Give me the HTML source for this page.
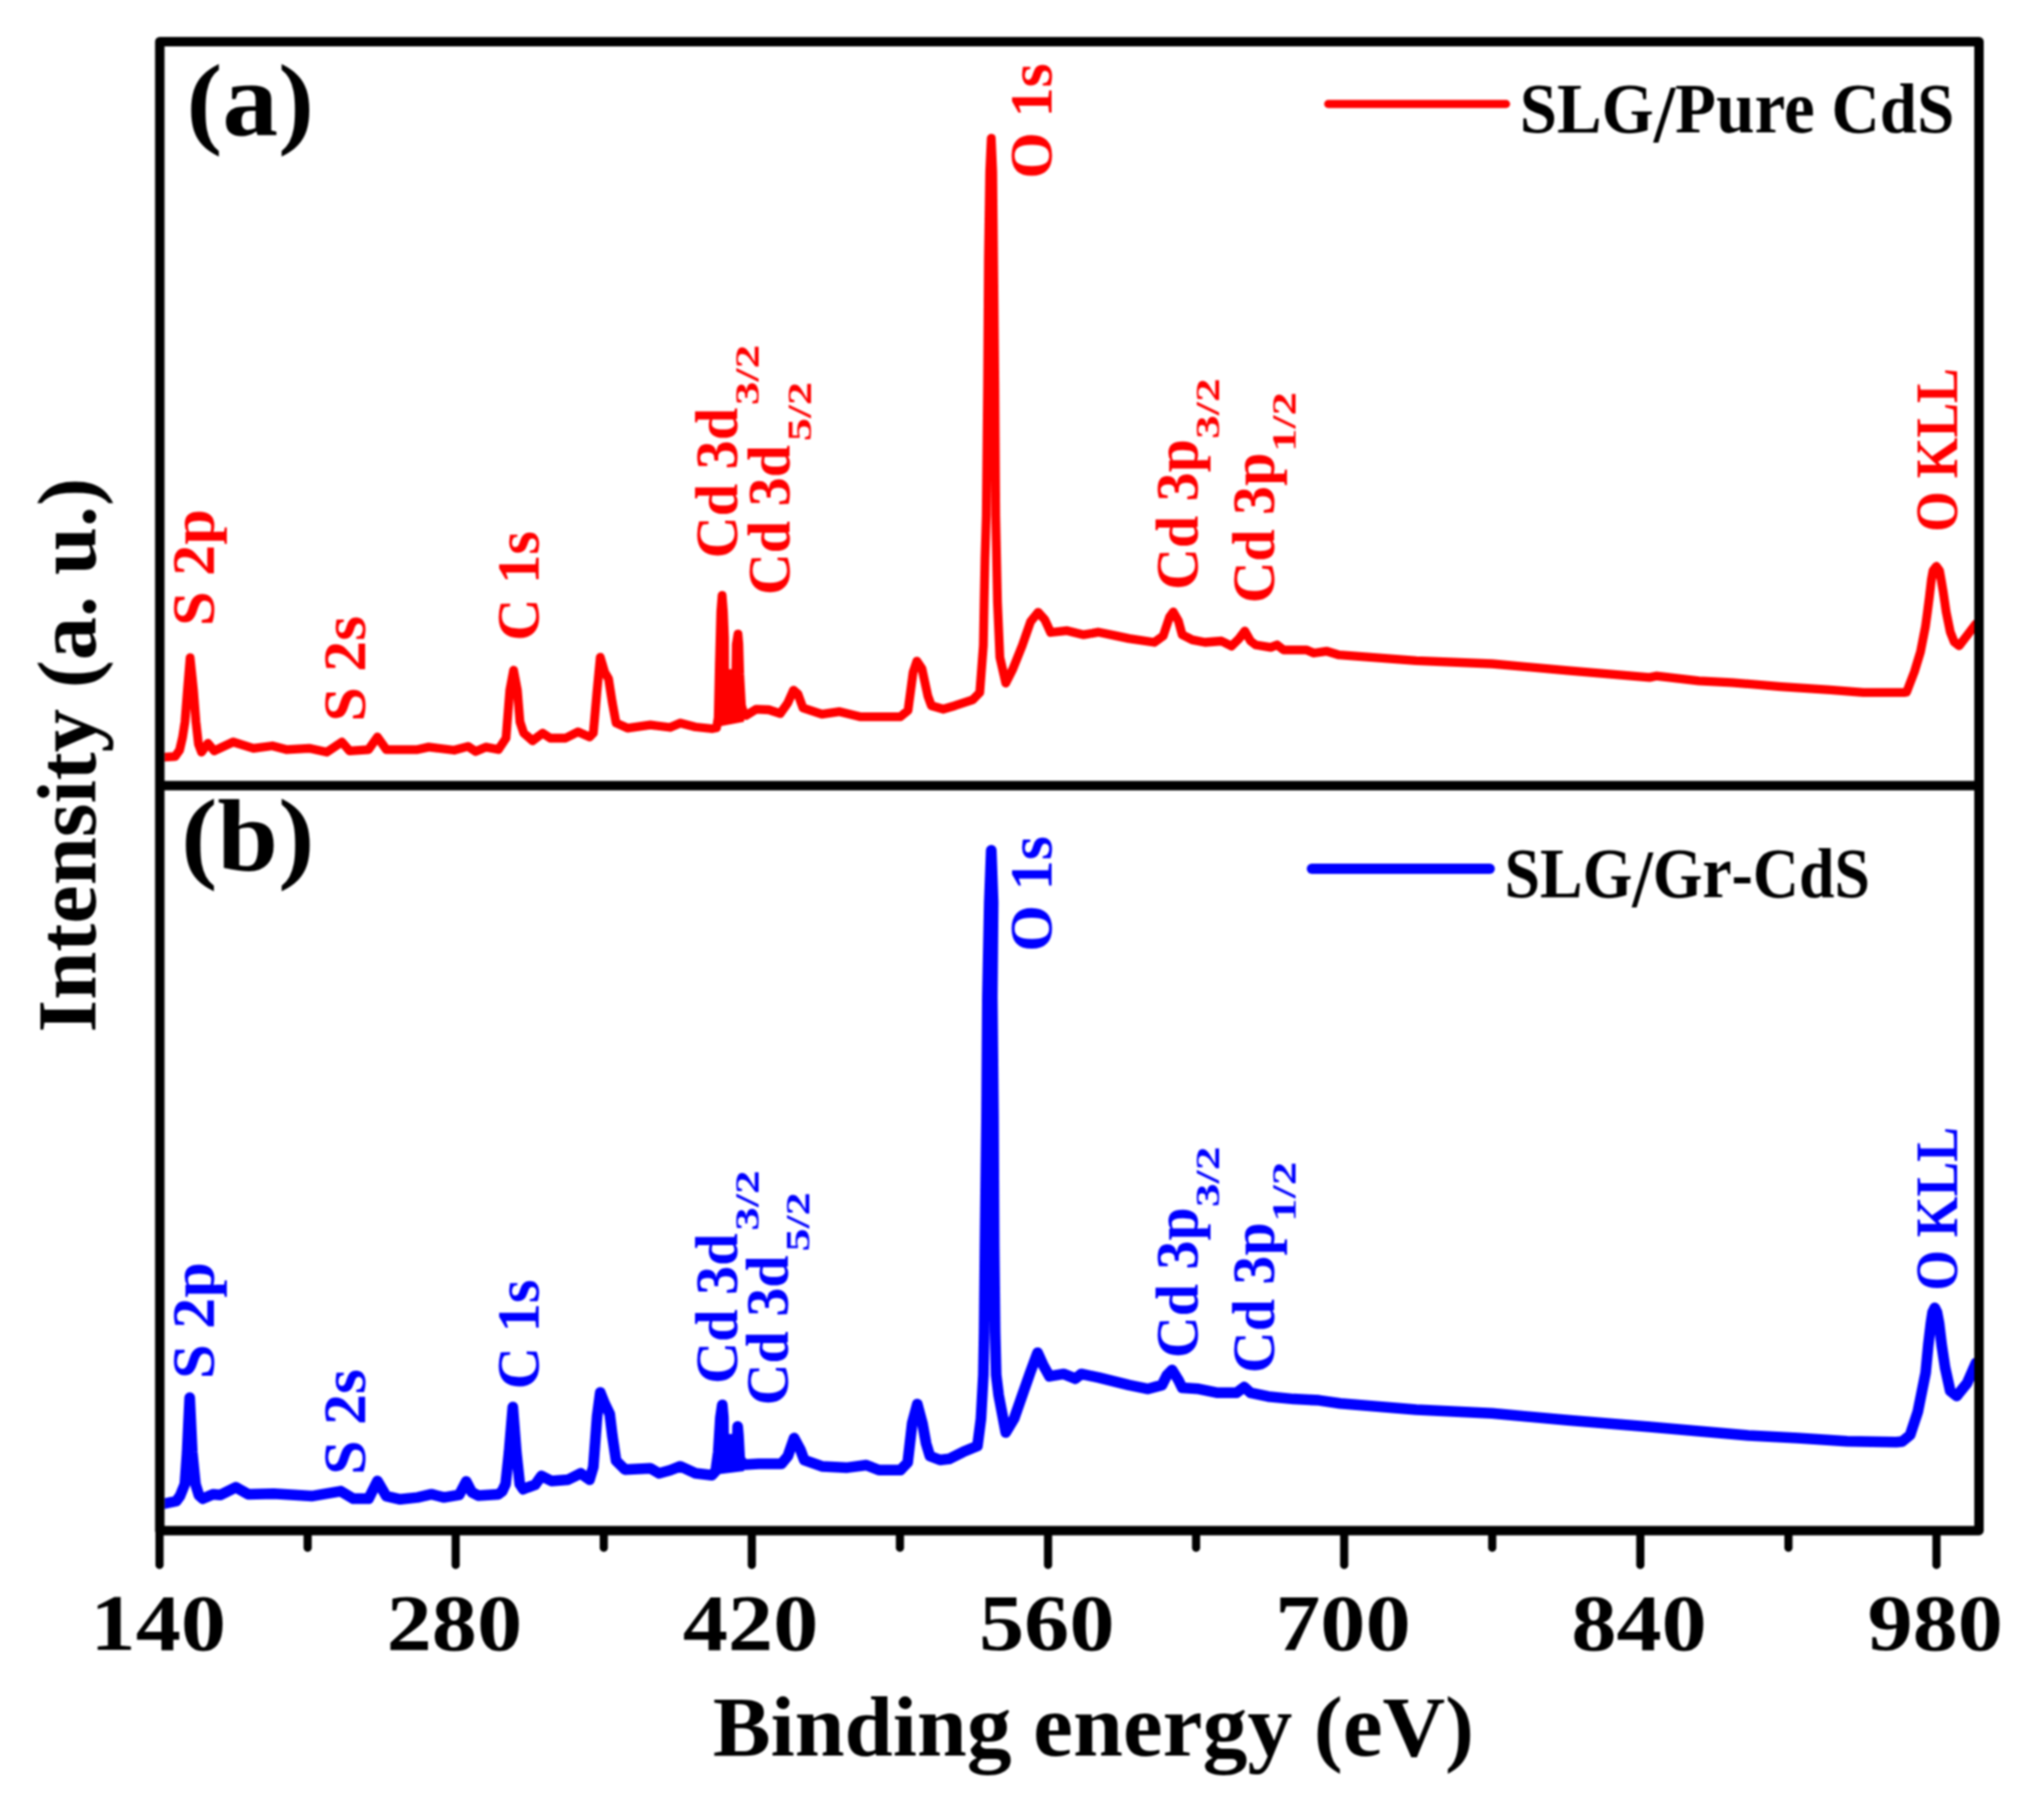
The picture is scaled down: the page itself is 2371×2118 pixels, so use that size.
<!DOCTYPE html>
<html><head><meta charset="utf-8"><title>XPS survey spectra</title>
<style>html,body{margin:0;padding:0;background:#fff;width:2371px;height:2118px;overflow:hidden}</style>
</head><body>
<svg width="2371" height="2118" viewBox="0 0 2371 2118" style="display:block;filter:blur(0.9px)">
<rect width="2371" height="2118" fill="#fff"/>
<defs><clipPath id="pa"><rect x="191.5" y="54.5" width="2106.5" height="854.5"/></clipPath><clipPath id="pb"><rect x="191.5" y="919.5" width="2106.5" height="856"/></clipPath></defs>
<polyline clip-path="url(#pa)" points="186.5,881.0 190.4,881.1 203.7,880.4 209.0,873.0 212.5,858.0 215.3,840.0 218.2,803.0 221.3,765.5 225.2,803.0 228.1,840.0 231.0,866.0 234.6,875.3 242.0,865.0 249.3,873.8 271.4,863.5 295.0,870.8 317.0,868.0 333.3,872.3 359.8,870.8 380.4,875.3 398.0,863.5 406.9,873.8 429.0,872.3 439.3,857.6 449.6,872.3 486.0,872.3 499.1,869.4 528.6,873.0 544.8,868.6 553.6,874.5 565.4,869.4 580.1,872.3 589.0,859.0 593.4,803.1 597.8,780.0 602.2,803.1 605.2,840.0 609.6,853.2 619.9,862.0 631.7,853.2 640.5,859.0 658.2,859.0 672.9,851.7 686.2,857.6 690.6,853.2 695.0,803.1 698.7,765.0 703.9,782.5 708.3,789.8 712.7,817.8 717.1,841.4 730.4,847.3 756.9,843.6 780.0,846.5 791.8,841.5 809.5,846.0 828.6,848.0 834.0,847.0 836.0,835.0 837.3,774.0 839.0,712.0 840.5,693.0 842.0,712.0 843.3,743.0 843.5,784.0 856.5,784.0 857.0,750.0 859.0,737.8 860.0,750.0 861.0,785.0 863.0,821.0 866.0,831.0 868.4,832.6 880.1,825.3 894.9,826.0 908.1,830.4 917.0,817.9 923.6,803.2 928.7,807.6 934.6,823.8 956.7,831.2 977.3,828.2 1000.9,834.1 1023.0,834.1 1048.0,834.1 1056.9,826.7 1062.8,782.5 1067.2,769.3 1073.1,778.1 1080.0,810.0 1084.1,821.2 1097.9,825.3 1111.6,821.2 1132.2,814.3 1140.4,806.0 1144.6,751.1 1145.5,700.0 1146.5,650.0 1148.0,600.0 1149.5,450.0 1150.5,300.0 1152.0,200.0 1153.8,161.0 1155.5,200.0 1156.5,300.0 1158.0,450.0 1159.0,600.0 1160.0,650.0 1161.0,700.0 1163.8,764.8 1170.7,795.0 1178.9,778.6 1189.9,751.1 1199.5,723.6 1208.4,712.6 1216.0,720.9 1222.9,736.0 1242.1,733.9 1261.3,738.7 1278.8,735.7 1296.5,739.4 1314.2,743.1 1343.6,747.5 1353.9,740.1 1361.3,718.1 1365.7,712.2 1371.6,722.5 1376.0,738.7 1387.8,744.6 1402.5,747.5 1421.7,746.0 1433.5,751.9 1442.3,743.1 1448.9,734.3 1455.6,746.0 1461.5,750.5 1479.1,753.4 1486.5,750.5 1493.9,756.3 1520.4,756.3 1529.2,760.0 1543.9,757.8 1558.7,762.2 1648.4,768.9 1736.7,772.5 1825.1,780.4 1920.0,788.4 1927.7,786.7 1977.4,792.4 2015.7,794.3 2073.2,799.1 2130.6,802.9 2168.9,805.8 2216.8,805.8 2219.2,805.5 2228.4,781.5 2235.4,758.4 2241.1,729.6 2243.5,712.0 2245.7,695.0 2248.0,675.0 2250.0,664.0 2253.8,659.0 2257.5,664.0 2259.5,675.0 2261.9,689.2 2265.3,712.3 2270.0,735.3 2274.6,746.9 2280.3,751.5 2288.4,741.1 2300.0,726.0" fill="none" stroke="#ff0000" stroke-width="10.3" stroke-linejoin="round" stroke-linecap="round"/>
<polyline clip-path="url(#pb)" points="186.5,1750.5 190.4,1750.0 205.1,1747.0 209.5,1741.0 215.2,1727.0 217.8,1690.0 220.8,1626.5 223.8,1690.0 227.5,1727.0 231.5,1740.0 236.1,1744.1 247.9,1739.0 256.7,1739.7 274.4,1730.8 289.1,1739.0 318.5,1738.2 362.7,1741.1 396.6,1735.3 411.3,1744.1 429.0,1744.1 439.3,1723.5 449.6,1741.1 465.8,1744.8 486.0,1742.6 502.1,1738.9 516.8,1742.6 534.5,1739.7 542.6,1724.0 549.2,1736.7 556.6,1740.4 580.1,1738.9 584.5,1735.5 588.5,1727.0 592.5,1690.0 596.9,1637.5 601.0,1690.0 605.0,1727.0 609.0,1733.0 614.0,1731.0 622.9,1727.9 630.2,1717.6 642.0,1723.5 661.1,1722.0 675.9,1714.6 686.2,1722.0 690.6,1707.3 695.0,1648.4 698.7,1620.5 703.9,1633.6 709.7,1645.4 712.7,1670.5 717.1,1699.9 727.4,1710.2 756.9,1708.7 767.2,1714.6 780.0,1711.0 791.8,1706.4 809.5,1714.5 828.6,1716.7 833.0,1712.0 836.0,1690.0 838.5,1650.0 840.7,1635.0 842.0,1650.0 842.3,1675.0 858.3,1675.0 858.6,1660.0 859.5,1670.0 861.0,1698.0 866.0,1704.6 883.1,1703.5 909.6,1703.5 917.0,1694.6 924.3,1673.5 931.7,1687.3 936.1,1699.1 956.7,1706.4 986.2,1707.9 1008.3,1705.0 1023.0,1710.8 1048.0,1710.8 1056.5,1702.0 1061.8,1656.0 1067.7,1634.0 1073.6,1656.0 1078.0,1680.0 1082.4,1694.5 1094.2,1699.0 1104.7,1697.8 1121.2,1689.6 1137.7,1682.7 1141.8,1651.1 1144.6,1600.0 1145.5,1550.0 1146.5,1450.0 1148.3,1300.0 1149.3,1160.0 1151.5,1050.0 1153.8,989.5 1156.0,1050.0 1155.0,1160.0 1156.4,1300.0 1157.2,1450.0 1158.3,1550.0 1159.5,1600.0 1162.4,1623.6 1170.7,1667.0 1180.3,1651.1 1189.9,1623.6 1199.5,1596.2 1207.7,1574.2 1214.6,1589.3 1221.5,1601.6 1238.0,1598.9 1251.7,1604.4 1258.6,1598.9 1278.8,1603.1 1314.2,1611.9 1336.3,1616.3 1352.5,1611.9 1358.4,1600.1 1364.3,1594.3 1371.6,1606.0 1376.0,1614.9 1395.2,1616.3 1417.3,1620.8 1439.4,1620.8 1448.2,1614.1 1455.6,1620.8 1476.2,1625.2 1505.6,1628.1 1535.1,1629.6 1560.0,1633.3 1648.4,1640.4 1736.7,1644.8 1825.1,1652.8 1920.0,1660.5 1977.4,1665.5 2034.9,1670.5 2092.3,1673.4 2149.8,1677.2 2207.2,1678.2 2214.2,1677.5 2223.3,1670.0 2232.3,1642.7 2241.4,1597.4 2244.5,1565.0 2247.5,1540.0 2249.5,1527.0 2252.0,1522.0 2254.5,1527.0 2257.0,1540.0 2260.0,1565.0 2264.0,1591.4 2270.0,1618.6 2277.6,1624.6 2289.7,1609.5 2300.0,1586.0" fill="none" stroke="#0000ff" stroke-width="12.5" stroke-linejoin="round" stroke-linecap="round"/>
<polygon clip-path="url(#pa)" points="834,847 836,835 837.3,774 839,712 840.5,693 842,712 843.3,743 843.5,784 856.5,784 857,750 859,737.8 860,750 861,785 863,821 866,831 866,840 834,846" fill="#ff0000"/>
<polygon clip-path="url(#pb)" points="833,1712 836,1690 838.5,1650 840.7,1635 842,1650 842.3,1675 858.3,1675 858.6,1660 859.5,1670 861,1698 866,1704.6 866,1712 833,1716" fill="#0000ff"/>
<path d="M186,48.4H2303.5V1781.2H186Z M186,914.3H2303.5" fill="none" stroke="#000" stroke-width="11" stroke-linejoin="round" stroke-linecap="butt"/>
<line x1="185.7" y1="1781.2" x2="185.7" y2="1821.2" stroke="#000" stroke-width="9.5" stroke-linecap="round"/>
<line x1="358.1" y1="1781.2" x2="358.1" y2="1801.2" stroke="#000" stroke-width="9.5" stroke-linecap="round"/>
<line x1="530.4" y1="1781.2" x2="530.4" y2="1821.2" stroke="#000" stroke-width="9.5" stroke-linecap="round"/>
<line x1="702.8" y1="1781.2" x2="702.8" y2="1801.2" stroke="#000" stroke-width="9.5" stroke-linecap="round"/>
<line x1="875.1" y1="1781.2" x2="875.1" y2="1821.2" stroke="#000" stroke-width="9.5" stroke-linecap="round"/>
<line x1="1047.5" y1="1781.2" x2="1047.5" y2="1801.2" stroke="#000" stroke-width="9.5" stroke-linecap="round"/>
<line x1="1219.9" y1="1781.2" x2="1219.9" y2="1821.2" stroke="#000" stroke-width="9.5" stroke-linecap="round"/>
<line x1="1392.2" y1="1781.2" x2="1392.2" y2="1801.2" stroke="#000" stroke-width="9.5" stroke-linecap="round"/>
<line x1="1564.6" y1="1781.2" x2="1564.6" y2="1821.2" stroke="#000" stroke-width="9.5" stroke-linecap="round"/>
<line x1="1736.9" y1="1781.2" x2="1736.9" y2="1801.2" stroke="#000" stroke-width="9.5" stroke-linecap="round"/>
<line x1="1909.3" y1="1781.2" x2="1909.3" y2="1821.2" stroke="#000" stroke-width="9.5" stroke-linecap="round"/>
<line x1="2081.7" y1="1781.2" x2="2081.7" y2="1801.2" stroke="#000" stroke-width="9.5" stroke-linecap="round"/>
<line x1="2254.0" y1="1781.2" x2="2254.0" y2="1821.2" stroke="#000" stroke-width="9.5" stroke-linecap="round"/>
<text x="184.2" y="1919.5" font-family="'Liberation Serif', 'DejaVu Serif', serif" font-weight="bold" font-size="92.6" fill="#000" text-anchor="middle" textLength="157.7" lengthAdjust="spacingAndGlyphs">140</text>
<text x="528.9" y="1919.5" font-family="'Liberation Serif', 'DejaVu Serif', serif" font-weight="bold" font-size="92.6" fill="#000" text-anchor="middle" textLength="157.7" lengthAdjust="spacingAndGlyphs">280</text>
<text x="873.6" y="1919.5" font-family="'Liberation Serif', 'DejaVu Serif', serif" font-weight="bold" font-size="92.6" fill="#000" text-anchor="middle" textLength="157.7" lengthAdjust="spacingAndGlyphs">420</text>
<text x="1218.4" y="1919.5" font-family="'Liberation Serif', 'DejaVu Serif', serif" font-weight="bold" font-size="92.6" fill="#000" text-anchor="middle" textLength="157.7" lengthAdjust="spacingAndGlyphs">560</text>
<text x="1563.1" y="1919.5" font-family="'Liberation Serif', 'DejaVu Serif', serif" font-weight="bold" font-size="92.6" fill="#000" text-anchor="middle" textLength="157.7" lengthAdjust="spacingAndGlyphs">700</text>
<text x="1907.8" y="1919.5" font-family="'Liberation Serif', 'DejaVu Serif', serif" font-weight="bold" font-size="92.6" fill="#000" text-anchor="middle" textLength="157.7" lengthAdjust="spacingAndGlyphs">840</text>
<text x="2252.5" y="1919.5" font-family="'Liberation Serif', 'DejaVu Serif', serif" font-weight="bold" font-size="92.6" fill="#000" text-anchor="middle" textLength="157.7" lengthAdjust="spacingAndGlyphs">980</text>
<text x="829.7" y="2043" font-family="'Liberation Serif', 'DejaVu Serif', serif" font-weight="bold" font-size="99.7" fill="#000" text-anchor="start" textLength="886" lengthAdjust="spacingAndGlyphs">Bi<tspan font-size="103.19">n</tspan>di<tspan font-size="103.19">ng</tspan> <tspan font-size="103.19">energy</tspan> (<tspan font-size="103.19">e</tspan>V)</text>
<g transform="translate(111,1201.4) rotate(-90)"><text x="0" y="0" font-family="'Liberation Serif', 'DejaVu Serif', serif" font-weight="bold" font-size="96.7" fill="#000" text-anchor="start" textLength="645" lengthAdjust="spacingAndGlyphs">I<tspan font-size="100.08">n</tspan>t<tspan font-size="100.08">ens</tspan>it<tspan font-size="100.08">y</tspan> (<tspan font-size="100.08">a</tspan>. <tspan font-size="100.08">u</tspan>.)</text></g>
<text x="217" y="157.2" font-family="'Liberation Serif', 'DejaVu Serif', serif" font-weight="bold" font-size="118.3" fill="#000" text-anchor="start" textLength="148.5" lengthAdjust="spacingAndGlyphs">(<tspan font-size="122.44">a</tspan>)</text>
<text x="210.7" y="1012.4" font-family="'Liberation Serif', 'DejaVu Serif', serif" font-weight="bold" font-size="118.3" fill="#000" text-anchor="start" textLength="155.3" lengthAdjust="spacingAndGlyphs">(b)</text>
<line x1="1546" y1="121" x2="1753" y2="121" stroke="#ff0000" stroke-width="9.5" stroke-linecap="round"/>
<text x="1769" y="153.5" font-family="'Liberation Serif', 'DejaVu Serif', serif" font-weight="bold" font-size="83" fill="#000" textLength="505.8" lengthAdjust="spacingAndGlyphs">SLG<tspan font-size="95.45" dy="11">/</tspan><tspan dy="-11">P<tspan font-size="85.90">ure</tspan> CdS</tspan></text>
<line x1="1527" y1="1011" x2="1734" y2="1011" stroke="#0000ff" stroke-width="12" stroke-linecap="round"/>
<text x="1751.3" y="1043.5" font-family="'Liberation Serif', 'DejaVu Serif', serif" font-weight="bold" font-size="83" fill="#000" textLength="425.3" lengthAdjust="spacingAndGlyphs">SLG<tspan font-size="95.45" dy="11">/</tspan><tspan dy="-11">G<tspan font-size="85.90">r</tspan>-CdS</tspan></text>
<g transform="translate(249,728.6) rotate(-90)"><text x="0" y="0" font-family="'Liberation Serif', 'DejaVu Serif', serif" font-weight="bold" font-size="69.5" fill="#ff0000" text-anchor="start" textLength="136.2" lengthAdjust="spacingAndGlyphs">S 2<tspan font-size="71.93">p</tspan></text></g>
<g transform="translate(249,1604.8000000000002) rotate(-90)"><text x="0" y="0" font-family="'Liberation Serif', 'DejaVu Serif', serif" font-weight="bold" font-size="69.5" fill="#0000ff" text-anchor="start" textLength="136.2" lengthAdjust="spacingAndGlyphs">S 2<tspan font-size="71.93">p</tspan></text></g>
<g transform="translate(425.4,839.7) rotate(-90)"><text x="0" y="0" font-family="'Liberation Serif', 'DejaVu Serif', serif" font-weight="bold" font-size="69.5" fill="#ff0000" text-anchor="start" textLength="122.8" lengthAdjust="spacingAndGlyphs">S 2<tspan font-size="71.93">s</tspan></text></g>
<g transform="translate(425.4,1716.2) rotate(-90)"><text x="0" y="0" font-family="'Liberation Serif', 'DejaVu Serif', serif" font-weight="bold" font-size="69.5" fill="#0000ff" text-anchor="start" textLength="122.8" lengthAdjust="spacingAndGlyphs">S 2<tspan font-size="71.93">s</tspan></text></g>
<g transform="translate(626.5,745.7) rotate(-90)"><text x="0" y="0" font-family="'Liberation Serif', 'DejaVu Serif', serif" font-weight="bold" font-size="69.5" fill="#ff0000" text-anchor="start" textLength="127.5" lengthAdjust="spacingAndGlyphs">C 1<tspan font-size="71.93">s</tspan></text></g>
<g transform="translate(626.5,1616.7) rotate(-90)"><text x="0" y="0" font-family="'Liberation Serif', 'DejaVu Serif', serif" font-weight="bold" font-size="69.5" fill="#0000ff" text-anchor="start" textLength="127.5" lengthAdjust="spacingAndGlyphs">C 1<tspan font-size="71.93">s</tspan></text></g>
<g transform="translate(858,649.7) rotate(-90)"><text x="0" y="0" font-family="'Liberation Serif', 'DejaVu Serif', serif" font-weight="bold" font-size="69.5" fill="#ff0000" text-anchor="start" textLength="175" lengthAdjust="spacingAndGlyphs">Cd 3d</text><text x="178.2" y="25" font-family="'Liberation Serif', 'DejaVu Serif', serif" font-weight="bold" font-size="41" fill="#ff0000" text-anchor="start" textLength="70.3" lengthAdjust="spacingAndGlyphs">3/2</text></g>
<g transform="translate(858,1610.4) rotate(-90)"><text x="0" y="0" font-family="'Liberation Serif', 'DejaVu Serif', serif" font-weight="bold" font-size="69.5" fill="#0000ff" text-anchor="start" textLength="175" lengthAdjust="spacingAndGlyphs">Cd 3d</text><text x="178.2" y="25" font-family="'Liberation Serif', 'DejaVu Serif', serif" font-weight="bold" font-size="41" fill="#0000ff" text-anchor="start" textLength="70.3" lengthAdjust="spacingAndGlyphs">3/2</text></g>
<g transform="translate(919,692.5) rotate(-90)"><text x="0" y="0" font-family="'Liberation Serif', 'DejaVu Serif', serif" font-weight="bold" font-size="69.5" fill="#ff0000" text-anchor="start" textLength="174.6" lengthAdjust="spacingAndGlyphs">Cd 3d</text><text x="178.9" y="25" font-family="'Liberation Serif', 'DejaVu Serif', serif" font-weight="bold" font-size="41" fill="#ff0000" text-anchor="start" textLength="69.2" lengthAdjust="spacingAndGlyphs">5/2</text></g>
<g transform="translate(917,1635.5) rotate(-90)"><text x="0" y="0" font-family="'Liberation Serif', 'DejaVu Serif', serif" font-weight="bold" font-size="69.5" fill="#0000ff" text-anchor="start" textLength="174.6" lengthAdjust="spacingAndGlyphs">Cd 3d</text><text x="178.9" y="25" font-family="'Liberation Serif', 'DejaVu Serif', serif" font-weight="bold" font-size="41" fill="#0000ff" text-anchor="start" textLength="69.2" lengthAdjust="spacingAndGlyphs">5/2</text></g>
<g transform="translate(1223.5,208.1) rotate(-90)"><text x="0" y="0" font-family="'Liberation Serif', 'DejaVu Serif', serif" font-weight="bold" font-size="69.5" fill="#ff0000" text-anchor="start" textLength="134.5" lengthAdjust="spacingAndGlyphs">O 1<tspan font-size="71.93">s</tspan></text></g>
<g transform="translate(1223.5,1107.5) rotate(-90)"><text x="0" y="0" font-family="'Liberation Serif', 'DejaVu Serif', serif" font-weight="bold" font-size="69.5" fill="#0000ff" text-anchor="start" textLength="134.5" lengthAdjust="spacingAndGlyphs">O 1<tspan font-size="71.93">s</tspan></text></g>
<g transform="translate(1394,686.5) rotate(-90)"><text x="0" y="0" font-family="'Liberation Serif', 'DejaVu Serif', serif" font-weight="bold" font-size="69.5" fill="#ff0000" text-anchor="start" textLength="175.5" lengthAdjust="spacingAndGlyphs">Cd 3<tspan font-size="71.93">p</tspan></text><text x="175.8" y="25" font-family="'Liberation Serif', 'DejaVu Serif', serif" font-weight="bold" font-size="41" fill="#ff0000" text-anchor="start" textLength="70.4" lengthAdjust="spacingAndGlyphs">3/2</text></g>
<g transform="translate(1394,1580.5) rotate(-90)"><text x="0" y="0" font-family="'Liberation Serif', 'DejaVu Serif', serif" font-weight="bold" font-size="69.5" fill="#0000ff" text-anchor="start" textLength="175.5" lengthAdjust="spacingAndGlyphs">Cd 3<tspan font-size="71.93">p</tspan></text><text x="175.8" y="25" font-family="'Liberation Serif', 'DejaVu Serif', serif" font-weight="bold" font-size="41" fill="#0000ff" text-anchor="start" textLength="70.4" lengthAdjust="spacingAndGlyphs">3/2</text></g>
<g transform="translate(1483,702.1) rotate(-90)"><text x="0" y="0" font-family="'Liberation Serif', 'DejaVu Serif', serif" font-weight="bold" font-size="69.5" fill="#ff0000" text-anchor="start" textLength="175.3" lengthAdjust="spacingAndGlyphs">Cd 3<tspan font-size="71.93">p</tspan></text><text x="176.0" y="25" font-family="'Liberation Serif', 'DejaVu Serif', serif" font-weight="bold" font-size="41" fill="#ff0000" text-anchor="start" textLength="69.9" lengthAdjust="spacingAndGlyphs">1/2</text></g>
<g transform="translate(1483,1597.9) rotate(-90)"><text x="0" y="0" font-family="'Liberation Serif', 'DejaVu Serif', serif" font-weight="bold" font-size="69.5" fill="#0000ff" text-anchor="start" textLength="175.3" lengthAdjust="spacingAndGlyphs">Cd 3<tspan font-size="71.93">p</tspan></text><text x="176.0" y="25" font-family="'Liberation Serif', 'DejaVu Serif', serif" font-weight="bold" font-size="41" fill="#0000ff" text-anchor="start" textLength="69.9" lengthAdjust="spacingAndGlyphs">1/2</text></g>
<g transform="translate(2278,618.9) rotate(-90)"><text x="0" y="0" font-family="'Liberation Serif', 'DejaVu Serif', serif" font-weight="bold" font-size="69.5" fill="#ff0000" text-anchor="start" textLength="190.5" lengthAdjust="spacingAndGlyphs">O KLL</text></g>
<g transform="translate(2278,1502.0) rotate(-90)"><text x="0" y="0" font-family="'Liberation Serif', 'DejaVu Serif', serif" font-weight="bold" font-size="69.5" fill="#0000ff" text-anchor="start" textLength="190.5" lengthAdjust="spacingAndGlyphs">O KLL</text></g>
</svg>
</body></html>
